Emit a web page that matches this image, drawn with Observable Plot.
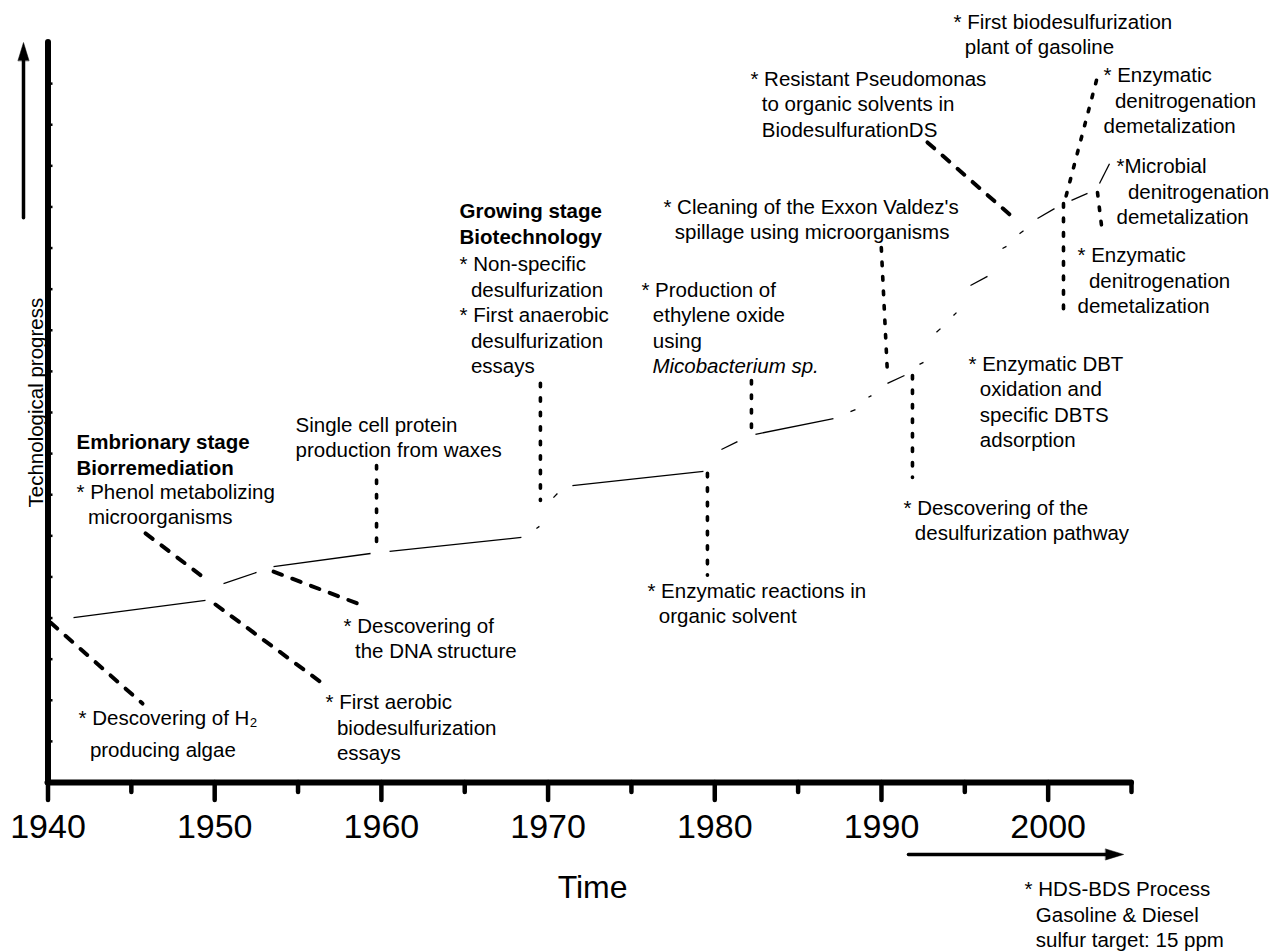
<!DOCTYPE html>
<html>
<head>
<meta charset="utf-8">
<script src="https://cdn.jsdelivr.net/npm/d3@7"></script>
<script src="https://cdn.jsdelivr.net/npm/@observablehq/plot@0.6"></script>
<style>
  html, body { margin: 0; padding: 0; background: #fff; }
  #chart svg { display: block; }
</style>
</head>
<body>
<div id="chart"></div>
<script>
// ---------- data (years on x, technological progress level on y) ----------
const majorYears = [1940, 1950, 1960, 1970, 1980, 1990, 2000];
const minorYears = [1945, 1955, 1965, 1975, 1985, 1995, 2005];
const levelTicks = [1, 2, 3, 4, 5, 6, 7, 8, 9, 10, 11, 12, 13, 14, 15, 16, 17];

// progress line, drawn as the visible dashes: [year1, level1, year2, level2]
const progressSegments = [
  [1941.53, 4.01, 1949.45, 4.43],
  [1950.53, 4.84, 1952.51, 5.11],
  [1953.53, 5.25, 1959.35, 5.57],
  [1960.49, 5.62, 1968.40, 5.96],
  [1969.30, 6.18, 1969.48, 6.23],
  [1970.32, 6.93, 1970.56, 7.03],
  [1971.46, 7.22, 1979.32, 7.57],
  [1980.40, 8.10, 1981.36, 8.29],
  [1982.44, 8.47, 1987.12, 8.85],
  [1988.14, 9.02, 1988.44, 9.07],
  [1989.22, 9.37, 1989.40, 9.41],
  [1990.36, 9.71, 1991.38, 9.90],
  [1992.28, 10.17, 1992.52, 10.22],
  [1993.30, 10.95, 1993.54, 11.04],
  [1994.32, 11.36, 1994.50, 11.43],
  [1995.34, 12.09, 1996.36, 12.31],
  [1997.26, 12.99, 1997.50, 13.04],
  [1998.28, 13.35, 1998.52, 13.42],
  [1999.36, 13.72, 2000.38, 13.96],
  [2001.40, 14.16, 2002.36, 14.33],
  [2003.08, 14.57, 2003.68, 15.05]
];

// leader lines (dashed diagonals)
const leadersDashed = [
  [1940.15, 3.89, 1945.67, 1.92],
  [1945.85, 6.06, 1949.33, 4.99],
  [1950.05, 4.33, 1956.47, 2.41],
  [1953.53, 5.13, 1959.05, 4.28],
  [1992.76, 15.57, 1998.16, 13.65]
];
// leader lines (dotted)
const leadersDotted = [
  [1959.71, 7.71, 1959.71, 5.67],
  [1969.54, 9.71, 1969.54, 6.86],
  [1979.56, 7.52, 1979.56, 5.04],
  [1982.20, 9.78, 1982.20, 8.44],
  [1989.99, 13.01, 1990.35, 10.02],
  [1991.86, 9.90, 1991.86, 7.42],
  [2002.90, 17.08, 2001.04, 14.21],
  [2000.92, 14.08, 2000.92, 11.41],
  [2002.96, 14.35, 2003.26, 13.35]
];

const I = "\u00a0\u00a0"; // indent after "* "
const annotations = [
  {x: 1941.71, y: 6.28, text: `* Phenol metabolizing\n${I}microorganisms`},
  {x: 1954.85, y: 7.91, text: `Single cell protein\nproduction from waxes`},
  {x: 1957.73, y: 3.02, text: `* Descovering of\n${I}the DNA structure`},
  {x: 1956.65, y: 0.54, text: `* First aerobic\n${I}biodesulfurization\n${I}essays`},
  {x: 1964.69, y: 9.95, text: `* Non-specific\n${I}desulfurization\n* First anaerobic\n${I}desulfurization\n${I}essays`},
  {x: 1975.60, y: 10.58, text: `* Production of\n${I}ethylene oxide\n${I}using`},
  {x: 1975.96, y: 3.87, text: `* Enzymatic reactions in\n${I}organic solvent`},
  {x: 1976.92, y: 13.21, text: `* Cleaning of the Exxon Valdez's\n${I}spillage using microorganisms`},
  {x: 1982.14, y: 15.71, text: `* Resistant Pseudomonas\n${I}to organic solvents in\n${I}BiodesulfurationDS`},
  {x: 1994.32, y: 17.71, text: `* First biodesulfurization\n${I}plant of gasoline`},
  {x: 2003.32, y: 15.79, text: `* Enzymatic\n${I}denitrogenation\ndemetalization`},
  {x: 2004.10, y: 13.58, text: `*Microbial\n${I}denitrogenation\ndemetalization`},
  {x: 2001.76, y: 11.41, text: `* Enzymatic\n${I}denitrogenation\ndemetalization`},
  {x: 1995.22, y: 8.15, text: `* Enzymatic DBT\n${I}oxidation and\n${I}specific DBTS\n${I}adsorption`},
  {x: 1991.32, y: 5.89, text: `* Descovering of the\n${I}desulfurization pathway`},
  {x: 1998.58, y: -4.01, text: `* HDS-BDS Process\n${I}Gasoline & Diesel\n${I}sulfur target: 15 ppm`}
];
const boldAnnotations = [
  {x: 1941.71, y: 7.49, text: "Embrionary stage\nBiorremediation"},
  {x: 1964.69, y: 13.11, text: "Growing stage\nBiotechnology"}
];
const italicAnnotations = [
  {x: 1976.26, y: 9.97, text: "Micobacterium sp."}
];
const subscriptAnnotations = [
  {x: 1941.83, y: 0.61, text: `* Descovering of H\u2082\n${I}producing algae`}
];

const yArrow = {x1: 1938.53, y1: 13.74, x2: 1938.53, y2: 18};
const xArrow = {x1: 1991.62, y1: -1.75, x2: 2004.53, y2: -1.75};

const FONT = "Liberation Sans, Arial, Helvetica, sans-serif";
const FS = 20.5, LH = 1.245;

const triangle = {
  draw(context, l) {
    const w = 5.5;
    context.moveTo(-w, 0);
    context.lineTo(0, -l);
    context.lineTo(w, 0);
    context.closePath();
  }
};

const seg = {x1: d => d[0], y1: d => d[1], x2: d => d[2], y2: d => d[3]};

const chart = Plot.plot({
  width: 1277,
  height: 951,
  marginLeft: 47.5,
  marginRight: 146,
  marginTop: 42,
  marginBottom: 169,
  x: {domain: [1940, 2005], axis: null},
  y: {domain: [0, 18], axis: null},
  style: {fontFamily: FONT, background: "white", color: "black", overflow: "visible"},
  marks: [
    // progress line
    Plot.link(progressSegments, {...seg, stroke: "black", strokeWidth: 1.3}),
    // leaders
    Plot.link(leadersDashed, {...seg, stroke: "black", strokeWidth: 4, strokeDasharray: "9,11", strokeLinecap: "round"}),
    Plot.link(leadersDotted, {...seg, stroke: "black", strokeWidth: 3.6, strokeDasharray: "3.5,11", strokeLinecap: "round"}),
    // axes
    Plot.ruleY(levelTicks, {y: d => d, x1: 1940, x2: 1940.3, stroke: "black", strokeWidth: 2.5}),
    Plot.axisX(minorYears, {tickSize: 10, strokeWidth: 4.5, strokeLinecap: "round", tickFormat: () => "", label: null}),
    Plot.axisX(majorYears, {tickSize: 18, tickPadding: 13, strokeWidth: 4.5, strokeLinecap: "round",
      fontSize: 34, tickFormat: d => String(d), label: null, fill: "black"}),
    Plot.ruleY([0], {x1: 1940, x2: 2005, stroke: "black", strokeWidth: 6, strokeLinecap: "round"}),
    Plot.ruleX([1940], {y1: 0, y2: 18, stroke: "black", strokeWidth: 6, strokeLinecap: "round"}),
    // arrows
    Plot.arrow([yArrow], {x1: "x1", y1: "y1", x2: "x2", y2: "y2", headLength: 0, insetEnd: 12, strokeWidth: 3.5, stroke: "black"}),
    Plot.vector([yArrow], {x: "x2", y: "y2", length: 18, rotate: 0, anchor: "end", shape: triangle, fill: "black", stroke: "black", strokeWidth: 0.5}),
    Plot.arrow([xArrow], {x1: "x1", y1: "y1", x2: "x2", y2: "y2", headLength: 0, insetEnd: 12, strokeWidth: 3.5, stroke: "black"}),
    Plot.vector([xArrow], {x: "x2", y: "y2", length: 18, rotate: 90, anchor: "end", shape: triangle, fill: "black", stroke: "black", strokeWidth: 0.5}),
    // axis titles
    Plot.text(["Time"], {x: () => 1972.67, y: () => -2.8, text: d => d, fontSize: 32, textAnchor: "middle", lineAnchor: "bottom", fill: "black"}),
    Plot.text(["Technological progress"], {x: () => 1939.73, y: () => 9.24, text: d => d, fontSize: FS, rotate: -90, textAnchor: "middle", lineAnchor: "bottom", fill: "black"}),
    // annotations
    Plot.text(annotations, {x: "x", y: "y", text: "text", fontSize: FS, lineHeight: LH, textAnchor: "start", lineAnchor: "bottom", fill: "black"}),
    Plot.text(boldAnnotations, {x: "x", y: "y", text: "text", fontSize: FS, lineHeight: LH, fontWeight: "bold", textAnchor: "start", lineAnchor: "bottom", fill: "black"}),
    Plot.text(italicAnnotations, {x: "x", y: "y", text: "text", fontSize: FS, lineHeight: LH, fontStyle: "italic", textAnchor: "start", lineAnchor: "bottom", fill: "black"}),
    Plot.text(subscriptAnnotations, {x: "x", y: "y", text: "text", fontSize: FS, lineHeight: 1.56, textAnchor: "start", lineAnchor: "bottom", fill: "black"})
  ]
});
document.getElementById("chart").appendChild(chart);
</script>
</body>
</html>
